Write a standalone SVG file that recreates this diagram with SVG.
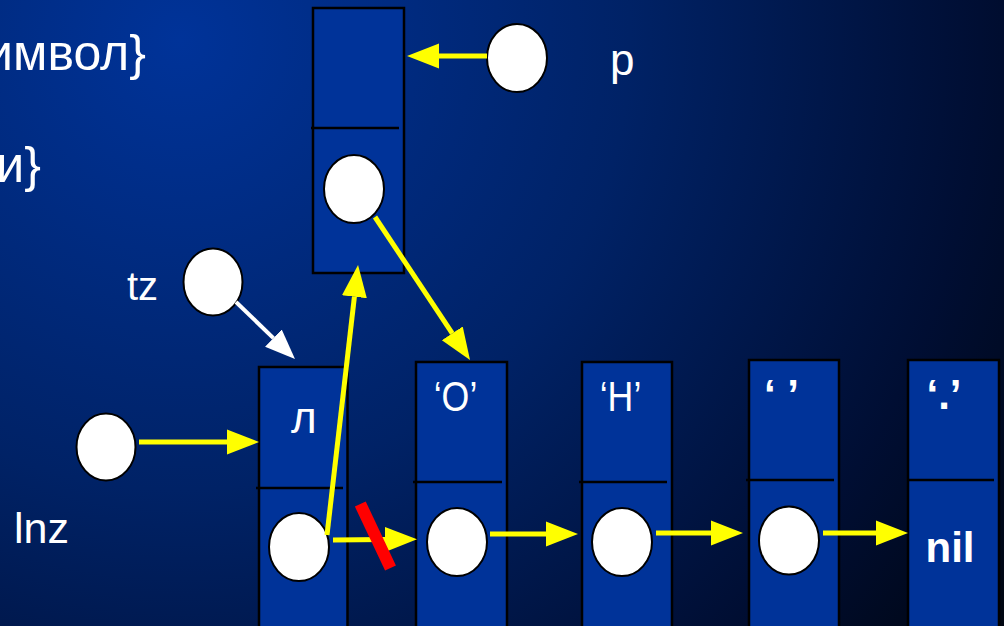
<svg xmlns="http://www.w3.org/2000/svg" width="1004" height="626" viewBox="0 0 1004 626">
<defs>
<radialGradient id="bg" gradientUnits="userSpaceOnUse" cx="180" cy="40" r="1000">
<stop offset="0" stop-color="#003399"/>
<stop offset="0.45" stop-color="#002266"/>
<stop offset="0.8" stop-color="#000e33"/>
<stop offset="1" stop-color="#000612"/>
</radialGradient>
<marker id="ay" markerUnits="userSpaceOnUse" markerWidth="34" markerHeight="28" viewBox="0 -14 34 28" refX="0" refY="0" orient="auto">
<path d="M0,-12.5 L32,0 L0,12.5 z" fill="#FFFF00"/>
</marker>
<marker id="aw" markerUnits="userSpaceOnUse" markerWidth="34" markerHeight="28" viewBox="0 -14 34 28" refX="0" refY="0" orient="auto">
<path d="M0,-12 L30,0 L0,12 z" fill="#FFFFFF"/>
</marker>
</defs>
<style>
.box{fill:#003399;stroke:#000;stroke-width:2.5}
.div{stroke:#000;stroke-width:2.5}
.ptr{fill:#fff;stroke:#000;stroke-width:2}
.t{fill:#fff;font-family:"Liberation Sans",Arial,sans-serif}
.y{stroke:#FFFF00;stroke-width:5;fill:none;marker-end:url(#ay)}
.w{stroke:#fff;stroke-width:4;fill:none;marker-end:url(#aw)}
</style>
<rect x="0" y="0" width="1004" height="626" fill="url(#bg)"/>

<g id="text-top">
<text class="t" x="146" y="70" font-size="50" text-anchor="end">имвол}</text>
<text class="t" x="41" y="182" font-size="50" text-anchor="end">и}</text>
</g>

<g id="node-top">
<rect class="box" x="313" y="8" width="91" height="265"/>
<line class="div" x1="311" y1="128" x2="399" y2="128"/>
<ellipse class="ptr" cx="354" cy="189" rx="30" ry="34"/>
</g>

<g id="ptr-p">
<ellipse class="ptr" cx="517" cy="58" rx="30" ry="34"/>
<text class="t" x="610" y="75" font-size="44">p</text>
</g>

<g id="ptr-tz">
<ellipse class="ptr" cx="213" cy="282" rx="29.5" ry="33.5"/>
<text class="t" x="127" y="300" font-size="40">tz</text>
</g>

<g id="ptr-lnz">
<ellipse class="ptr" cx="106" cy="447" rx="29.5" ry="33.5"/>
<text class="t" x="14" y="543" font-size="43">lnz</text>
</g>

<g id="node-l">
<rect class="box" x="259" y="367" width="88.5" height="280"/>
<line class="div" x1="256" y1="488" x2="343" y2="488"/>
<text class="t" x="291" y="433" font-size="44">л</text>
<ellipse class="ptr" cx="299" cy="547" rx="30" ry="34"/>
</g>

<g id="node-o">
<rect class="box" x="416" y="362" width="91" height="285"/>
<line class="div" x1="413" y1="482" x2="502" y2="482"/>
<text class="t" font-size="42" text-anchor="middle" transform="translate(455.5,411) scale(0.85,1)">‘О’</text>
<ellipse class="ptr" cx="457" cy="542" rx="30" ry="34"/>
</g>

<g id="node-n">
<rect class="box" x="582" y="362" width="90" height="285"/>
<line class="div" x1="579" y1="482" x2="667" y2="482"/>
<text class="t" font-size="42" text-anchor="middle" transform="translate(620.5,411) scale(0.85,1)">‘Н’</text>
<ellipse class="ptr" cx="622" cy="542" rx="30" ry="34"/>
</g>

<g id="node-space">
<rect class="box" x="749" y="360" width="90" height="287"/>
<line class="div" x1="746" y1="480" x2="834" y2="480"/>
<text class="t" x="781.5" y="409" font-size="42" text-anchor="middle" font-weight="bold">‘ ’</text>
<ellipse class="ptr" cx="789" cy="540.5" rx="30" ry="34"/>
</g>

<g id="node-nil">
<rect class="box" x="908" y="360" width="91" height="287"/>
<line class="div" x1="907" y1="480" x2="994" y2="480"/>
<text class="t" x="944" y="409" font-size="42" text-anchor="middle" font-weight="bold">‘.’</text>
<text class="t" x="925.5" y="562" font-size="42" font-weight="bold">nil</text>
</g>

<g id="connectors">
<line class="y" x1="487" y1="56" x2="439" y2="56"/>
<line class="y" x1="375" y1="217" x2="452.3" y2="333.3"/>
<line class="w" x1="236" y1="302" x2="273.4" y2="338.1"/>
<line class="y" x1="139" y1="442" x2="227" y2="442"/>
<line class="y" x1="327" y1="535" x2="354.4" y2="296.8"/>
<line class="y" x1="333" y1="540" x2="385" y2="539.5"/>
<line class="y" x1="490" y1="534" x2="546" y2="534"/>
<line class="y" x1="656" y1="533" x2="711" y2="533"/>
<line class="y" x1="823" y1="533" x2="876" y2="533"/>
<line x1="360.3" y1="504" x2="390.5" y2="568" stroke="#FF0000" stroke-width="12"/>
</g>
</svg>
